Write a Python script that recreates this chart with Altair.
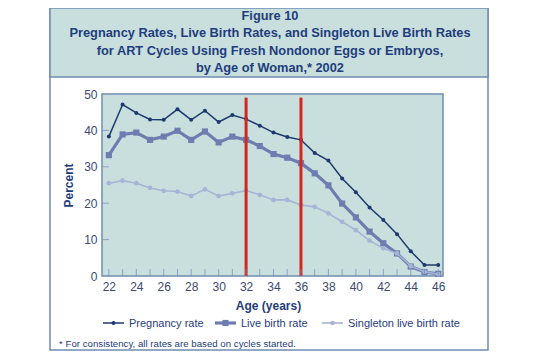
import altair as alt
import pandas as pd

ages = list(range(22, 47))
pregnancy = [38.3, 47.1, 44.8, 43.0, 42.9, 45.8, 42.9, 45.4, 42.3, 44.2, 43.1,
             41.3, 39.4, 38.2, 37.4, 33.8, 31.7, 26.8, 23.0, 18.8, 15.4, 11.5, 6.8, 3.0, 3.0]
live_birth = [33.2, 38.9, 39.4, 37.4, 38.3, 39.9, 37.4, 39.7, 36.7, 38.3, 37.4,
              35.7, 33.5, 32.5, 31.0, 28.2, 24.9, 19.9, 16.1, 12.2, 9.0, 6.2, 2.6, 1.1, 0.6]
singleton = [25.5, 26.2, 25.5, 24.2, 23.4, 23.2, 22.0, 23.8, 22.0, 22.7, 23.5,
             22.3, 20.9, 20.9, 19.5, 19.0, 17.2, 14.9, 12.6, 9.7, 7.6, 6.2, 2.7, 1.2, 0.5]
series_names = ["Pregnancy rate", "Live birth rate", "Singleton live birth rate"]
marker_ages = [32, 36]
marker_low = [0, 0]
marker_high = [49, 49]
x_tick_labels = list(range(22, 47, 2))
y_tick_values = [0, 10, 20, 30, 40, 50]
inner_y_ticks = [10, 20, 30, 40]

title_lines = [
    "Figure 10",
    "Pregnancy Rates, Live Birth Rates, and Singleton Live Birth Rates",
    "for ART Cycles Using Fresh Nondonor Eggs or Embryos,",
    "by Age of Woman,* 2002",
]
footnote = "* For consistency, all rates are based on cycles started."

NAVY = "#1c3a6e"
LIVE = "#6d7db0"
SINGLE = "#a6b4d6"
RED = "#d8231f"
BG = "#c9dfde"
BORDER = "#6f8db3"
TEXT = "#1f3d7c"
LABEL = "#3a4a70"
FONT = "Liberation Sans"

rows = []
for name, vals in zip(series_names, [pregnancy, live_birth, singleton]):
    for a, v in zip(ages, vals):
        rows.append({"age": a, "pct": v, "series": name})
df = pd.DataFrame(rows)

W, H = 341, 182

xscale = alt.Scale(domain=[21.5, 46.35], nice=False, zero=False)
yscale = alt.Scale(domain=[0, 50], nice=False)

X = alt.X("age:Q", scale=xscale,
          axis=alt.Axis(values=x_tick_labels, ticks=False, domain=False, grid=False,
                        labelOverlap=False, labelPadding=5, title="Age (years)",
                        titleX=166, titleY=29, titleBaseline="middle", titleAlign="center"))
Y = alt.Y("pct:Q", scale=yscale,
          axis=alt.Axis(values=y_tick_values, ticks=False, domain=False, grid=False,
                        labelOverlap=False, labelPadding=5, title="Percent",
                        titleX=-27, titleY=91, titleAngle=-90,
                        titleBaseline="bottom", titleAlign="center"))

base = alt.Chart(df)

styles = {
    "Pregnancy rate": dict(color=NAVY, sw=1.5, shape="circle", size=16),
    "Live birth rate": dict(color=LIVE, sw=3.2, shape="square", size=38),
    "Singleton live birth rate": dict(color=SINGLE, sw=1.6, shape="circle", size=22),
}

layers = []

# series lines and markers
for name in series_names:
    s = styles[name]
    sub = base.transform_filter(alt.datum.series == name)
    layers.append(sub.mark_line(color=s["color"], strokeWidth=s["sw"]).encode(x=X, y=Y))
    layers.append(sub.mark_point(color=s["color"], filled=True, opacity=1,
                                 shape=s["shape"], size=s["size"]).encode(x=X, y=Y))

# red marker lines
red = alt.Chart(pd.DataFrame({"age": marker_ages, "pct": marker_low, "top": marker_high})).mark_rule(
    color=RED, strokeWidth=3).encode(x=X, y=Y, y2="top:Q")
layers.append(red)

# inward ticks
xt = alt.Chart(pd.DataFrame({"age": ages})).mark_tick(
    color=BORDER, thickness=1, size=7).encode(x=X, y=alt.value(H - 3.5))
yt = alt.Chart(pd.DataFrame({"pct": inner_y_ticks})).mark_tick(
    color=BORDER, thickness=1, size=7).encode(y=Y, x=alt.value(3.5))
layers += [xt, yt]

# frame, title box, title, footnote (decoration)
deco = alt.Chart(pd.DataFrame({"k": [0]}))
frame = deco.mark_rect(fillOpacity=0, stroke=BORDER, strokeWidth=1.5).encode(
    x=alt.value(-52), x2=alt.value(386), y=alt.value(-86), y2=alt.value(256))
title_box = deco.mark_rect(fill=BG, stroke=BORDER, strokeWidth=1.5).encode(
    x=alt.value(-52), x2=alt.value(386), y=alt.value(-86), y2=alt.value(-17))
title_text = deco.mark_text(font=FONT, fontSize=12.8, fontWeight="bold", color=TEXT,
                            align="center", baseline="middle", lineHeight=17.5).encode(
    x=alt.value(168), y=alt.value(-78.5), text=alt.value(title_lines))
foot_text = deco.mark_text(font=FONT, fontSize=9.7, color=TEXT, align="left",
                           baseline="middle").encode(
    x=alt.value(-43), y=alt.value(250), text=alt.value(footnote))
layers += [frame, title_box, title_text, foot_text]

# legend
leg_x = [1, 113, 220]
for name, lx in zip(series_names, leg_x):
    s = styles[name]
    ld = alt.Chart(pd.DataFrame({"series": [name]}))
    layers.append(ld.mark_rule(color=s["color"], strokeWidth=s["sw"]).encode(
        x=alt.value(lx), x2=alt.value(lx + 21), y=alt.value(229)))
    layers.append(ld.mark_point(color=s["color"], filled=True, opacity=1,
                                shape=s["shape"], size=s["size"]).encode(
        x=alt.value(lx + 10.5), y=alt.value(229)))
    layers.append(ld.mark_text(font=FONT, fontSize=11, color=TEXT, align="left",
                               baseline="middle").encode(
        x=alt.value(lx + 26), y=alt.value(229.5), text="series:N"))

chart = alt.layer(*layers).properties(
    width=W, height=H,
    padding={"left": 94, "top": 86, "right": 89, "bottom": 76},
    autosize=alt.AutoSizeParams(type="none"),
    background="white",
).configure_view(
    fill=BG, stroke=BORDER, strokeWidth=1.5
).configure_axis(
    labelFont=FONT, labelFontSize=12, labelColor=LABEL, labelOverlap=False,
    titleFont=FONT, titleFontSize=12, titleColor=TEXT, titleFontWeight="bold",
)

chart.save("out.html", embed_options={"renderer": "svg", "actions": False})
